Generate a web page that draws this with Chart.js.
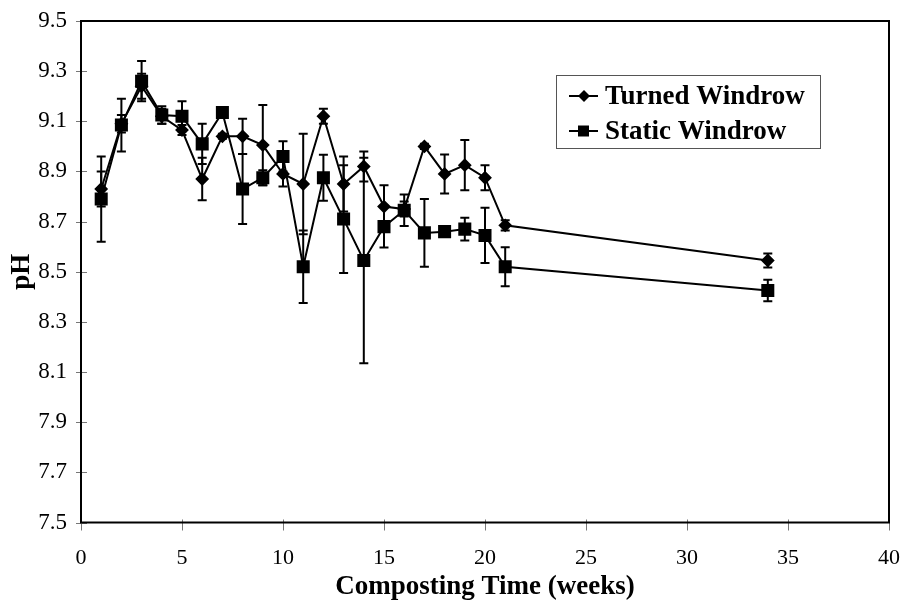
<!DOCTYPE html>
<html>
<head>
<meta charset="utf-8">
<script src="https://cdn.jsdelivr.net/npm/chart.js@4.4.1/dist/chart.umd.min.js"></script>
<style>
  html, body { margin: 0; padding: 0; background: #fff; }
  #wrap { width: 900px; height: 604px; }
</style>
</head>
<body>
<div id="wrap"><canvas id="ph-chart" width="900" height="604"></canvas></div>
<script>
// composting time (weeks)
const weeks = [1, 2, 3, 4, 5, 6, 7, 8, 9, 10, 11, 12, 13, 14, 15, 16, 17, 18, 19, 20, 21, 34];

// pH, turned windrow
const turned = [8.83, 9.09, 9.24, 9.12, 9.065, 8.87, 9.04, 9.04, 9.005, 8.89, 8.85,
    9.12, 8.85, 8.92, 8.76, 8.75, 9.0, 8.89, 8.925, 8.875, 8.685, 8.545];
const turnedErr = [0.07, 0.035, 0.05, 0.03, 0.02, 0.085, 0.01, 0.07, 0.16, 0.05, 0.2,
    0.03, 0.11, 0.06, 0.085, 0.03, 0.01, 0.078, 0.1, 0.05, 0.02, 0.028];

// pH, static windrow
const staticW = [8.79, 9.085, 9.26, 9.125, 9.12, 9.01, 9.135, 8.83, 8.875, 8.96, 8.52,
    8.875, 8.71, 8.545, 8.68, 8.745, 8.655, 8.66, 8.67, 8.645, 8.52, 8.425];
const staticErr = [0.17, 0.105, 0.08, 0.035, 0.06, 0.08, 0.01, 0.14, 0.03, 0.06, 0.145,
    0.092, 0.215, 0.41, 0.083, 0.063, 0.135, 0.02, 0.045, 0.11, 0.078, 0.043];

const seriesNames = ["Turned Windrow", "Static Windrow"];
const xTicks = [0, 5, 10, 15, 20, 25, 30, 35, 40];
const yTicks = [7.5, 7.7, 7.9, 8.1, 8.3, 8.5, 8.7, 8.9, 9.1, 9.3, 9.5];

const SERIF = "'Liberation Serif', 'Times New Roman', serif";

const toPoints = (vals) => weeks.map((w, i) => ({ x: w, y: vals[i] }));

// vertical error bars with caps, behind the markers
const errorBars = {
    id: "errorBars",
    beforeDatasetsDraw(chart) {
        const { ctx, scales: { x, y } } = chart;
        ctx.save();
        ctx.strokeStyle = "#000";
        ctx.lineWidth = 2;
        chart.data.datasets.forEach((ds) => {
            ds.data.forEach((p, i) => {
                const e = ds.errors[i];
                const px = x.getPixelForValue(p.x);
                const top = y.getPixelForValue(p.y + e);
                const bot = y.getPixelForValue(p.y - e);
                ctx.beginPath();
                ctx.moveTo(px, top);
                ctx.lineTo(px, bot);
                ctx.moveTo(px - 4.5, top);
                ctx.lineTo(px + 4.5, top);
                ctx.moveTo(px - 4.5, bot);
                ctx.lineTo(px + 4.5, bot);
                ctx.stroke();
            });
        });
        ctx.restore();
    },
};

// plot frame and tick marks that cross the axes
const frame = {
    id: "frame",
    beforeDraw(chart) {
        const { ctx, chartArea: a, scales: { x, y } } = chart;
        ctx.save();
        ctx.strokeStyle = "#777";
        ctx.lineWidth = 1;
        ctx.beginPath();
        yTicks.forEach((v) => {
            const py = Math.round(y.getPixelForValue(v)) + 0.5;
            ctx.moveTo(a.left - 5, py);
            ctx.lineTo(a.left + 6, py);
        });
        xTicks.forEach((v) => {
            const px = Math.round(x.getPixelForValue(v)) + 0.5;
            ctx.moveTo(px, a.bottom - 3);
            ctx.lineTo(px, a.bottom + 8);
        });
        ctx.stroke();
        ctx.strokeStyle = "#000";
        ctx.lineWidth = 2;
        ctx.strokeRect(a.left, a.top, a.right - a.left, a.bottom - a.top);
        ctx.restore();
    },
};

// boxed legend inside the plot, top right
const boxLegend = {
    id: "boxLegend",
    afterDraw(chart) {
        const { ctx } = chart;
        const bx = 556, by = 75, bw = 264, bh = 73;
        ctx.save();
        ctx.fillStyle = "#fff";
        ctx.fillRect(bx, by, bw, bh);
        ctx.strokeStyle = "#555";
        ctx.lineWidth = 1;
        ctx.strokeRect(bx + 0.5, by + 0.5, bw, bh);
        const rows = [96, 131];
        chart.data.datasets.forEach((ds, i) => {
            const cy = rows[i];
            ctx.strokeStyle = "#000";
            ctx.lineWidth = 2;
            ctx.beginPath();
            ctx.moveTo(569, cy);
            ctx.lineTo(598, cy);
            ctx.stroke();
            ctx.fillStyle = "#000";
            ctx.beginPath();
            if (ds.pointStyle === "rect") {
                ctx.rect(578, cy - 5.5, 11, 11);
            } else {
                ctx.moveTo(584, cy - 6);
                ctx.lineTo(590, cy);
                ctx.lineTo(584, cy + 6);
                ctx.lineTo(578, cy);
                ctx.closePath();
            }
            ctx.fill();
            ctx.font = "bold 27px " + SERIF;
            ctx.textBaseline = "middle";
            ctx.textAlign = "left";
            ctx.fillText(ds.label, 605, cy + 1);
        });
        ctx.restore();
    },
};

new Chart(document.getElementById("ph-chart"), {
    type: "line",
    data: {
        datasets: [
            {
                label: seriesNames[0],
                data: toPoints(turned),
                errors: turnedErr,
                borderColor: "#000",
                backgroundColor: "#000",
                borderWidth: 2,
                pointStyle: "rectRot",
                pointRadius: 5.5,
                tension: 0,
            },
            {
                label: seriesNames[1],
                data: toPoints(staticW),
                errors: staticErr,
                borderColor: "#000",
                backgroundColor: "#000",
                borderWidth: 2,
                pointStyle: "rect",
                pointRadius: 7.8,
                tension: 0,
            },
        ],
    },
    options: {
        responsive: false,
        animation: false,
        layout: { padding: { top: 21, right: 11, left: 0, bottom: 0 } },
        scales: {
            x: {
                type: "linear",
                min: 0,
                max: 40,
                afterBuildTicks: (s) => { s.ticks = xTicks.map((v) => ({ value: v })); },
                afterFit: (s) => {
                    s.height = 81.5;
                    s.paddingLeft = 0;
                    s.paddingRight = 0;
                },
                grid: { display: false, drawTicks: false },
                border: { display: false },
                ticks: {
                    color: "#000",
                    padding: 23,
                    font: { family: SERIF, size: 22 },
                },
                title: {
                    display: true,
                    text: "Composting Time (weeks)",
                    color: "#000",
                    padding: 1,
                    font: { family: SERIF, size: 27, weight: "bold" },
                },
            },
            y: {
                type: "linear",
                min: 7.5,
                max: 9.5,
                afterBuildTicks: (s) => { s.ticks = yTicks.map((v) => ({ value: v })); },
                afterFit: (s) => {
                    s.width = 81;
                    s.paddingTop = 0;
                    s.paddingBottom = 0;
                },
                grid: { display: false, drawTicks: false },
                border: { display: false },
                ticks: {
                    color: "#000",
                    padding: 14,
                    font: { family: SERIF, size: 23 },
                    callback: (v) => Number(v).toFixed(1),
                },
                title: {
                    display: true,
                    text: "pH",
                    color: "#000",
                    padding: 6,
                    font: { family: SERIF, size: 27, weight: "bold" },
                },
            },
        },
        plugins: {
            legend: { display: false },
            tooltip: { enabled: false },
        },
    },
    plugins: [frame, errorBars, boxLegend],
});
</script>
</body>
</html>
